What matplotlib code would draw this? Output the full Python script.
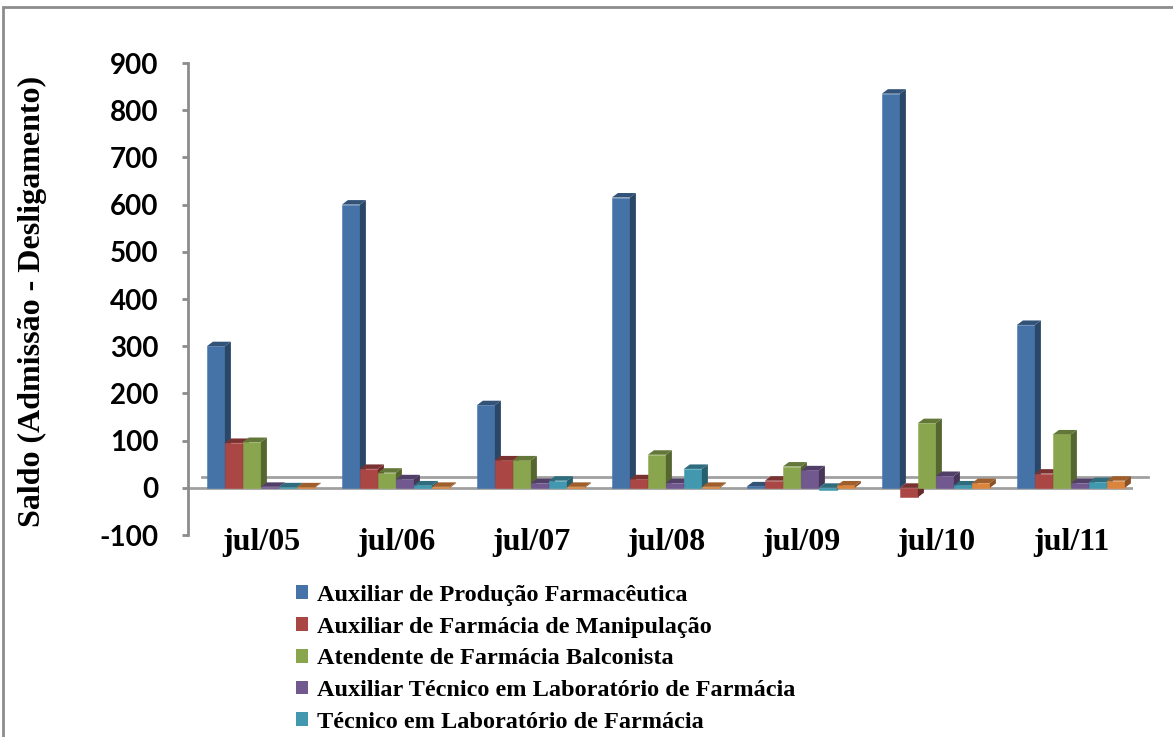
import matplotlib
matplotlib.use("Agg")
import matplotlib.pyplot as plt
from matplotlib.patches import Rectangle, Polygon
import numpy as np

# --- data -----------------------------------------------------------------
periodos = ["jul/05", "jul/06", "jul/07", "jul/08", "jul/09", "jul/10", "jul/11"]

aux_producao = [300, 600, 175, 615, 3, 835, 345]
aux_manipulacao = [95, 40, 58, 18, 15, -20, 30]
atendente_balconista = [97, 32, 58, 70, 45, 137, 113]
aux_tecnico_lab = [2, 18, 10, 10, 37, 25, 10]
tecnico_lab = [1, 5, 15, 40, -5, 5, 12]
serie6 = [1, 2, 2, 2, 5, 10, 15]

nomes = [
    "Auxiliar de Produção Farmacêutica",
    "Auxiliar de Farmácia de Manipulação",
    "Atendente de Farmácia Balconista",
    "Auxiliar Técnico em Laboratório de Farmácia",
    "Técnico em Laboratório de Farmácia",
]
series = [aux_producao, aux_manipulacao, atendente_balconista,
          aux_tecnico_lab, tecnico_lab, serie6]
cores = ["#4572A7", "#AA4643", "#89A54E", "#71588F", "#4198AF", "#DB843D"]

y_ticks = [-100, 0, 100, 200, 300, 400, 500, 600, 700, 800, 900]

# --- figure ---------------------------------------------------------------
W, H = 1173, 737
fig = plt.figure(figsize=(W / 100, H / 100), dpi=100)
fig.patch.set_facecolor("white")

# outer chart frame
fig.add_artist(Rectangle((3 / W, -0.1), 1.2, (H - 7) / H + 0.1,
                         transform=fig.transFigure, fill=False,
                         edgecolor="#8C8C8C", linewidth=2.0))

ax_l, ax_r = 188, 1133
ax_t, ax_b = 63, 535
ax = fig.add_axes([ax_l / W, (H - ax_b) / H, (ax_r - ax_l) / W, (ax_b - ax_t) / H])

xmin, xmax = -0.54, 6.46
ymin, ymax = -100, 900
ax.set_xlim(xmin, xmax)
ax.set_ylim(ymin, ymax)

px_x = (ax_r - ax_l) / (xmax - xmin)      # pixels per x unit
px_y = (ax_b - ax_t) / (ymax - ymin)      # pixels per y unit

def darker(hexcol, f):
    c = np.array(matplotlib.colors.to_rgb(hexcol))
    return tuple(c * f)

n = len(series)
w = 18 / px_x
DX = 6 / px_x
DY = 4.5 / px_y

# back wall floor line and front floor line
ax.plot([xmin + 14 / px_x, xmax + 15 / px_x], [11 / px_y, 11 / px_y],
        color="#A0A0A0", lw=2.0, clip_on=False, zorder=1)
ax.axhline(0, color="#A0A0A0", lw=2.0, zorder=1)

z = 2
for i in range(len(periodos)):
    for k in range(n):
        v = series[k][i]
        xl = i + (k - n / 2) * w
        lo, hi = min(0, v), max(0, v)
        col = cores[k]
        ax.add_patch(Rectangle((xl, lo), w, hi - lo, facecolor=col,
                               edgecolor=darker(col, 1.05), lw=0.4, zorder=z))
        ax.add_patch(Polygon([(xl + w, lo), (xl + w, hi), (xl + w + DX, hi + DY),
                              (xl + w + DX, lo + DY)], closed=True,
                             facecolor=darker(col, 0.62), edgecolor="none", zorder=z))
        ax.add_patch(Polygon([(xl, hi), (xl + w, hi), (xl + w + DX, hi + DY),
                              (xl + DX, hi + DY)], closed=True,
                             facecolor=darker(col, 0.72), edgecolor="none", zorder=z))
        z += 1

# --- axes styling ---------------------------------------------------------
for s in ["top", "right", "bottom"]:
    ax.spines[s].set_visible(False)
ax.spines["left"].set_color("#8C8C8C")
ax.spines["left"].set_linewidth(2.0)

ax.set_yticks(y_ticks)
ax.set_yticklabels([str(t) for t in y_ticks], fontfamily="Lato",
                   fontweight="bold", fontsize=20)
ax.tick_params(axis="y", direction="out", length=4, width=2, color="#8C8C8C", pad=17)

ax.set_xticks(range(len(periodos)))
ax.set_xticklabels(periodos, fontfamily="Liberation Serif", fontweight="bold", fontsize=23)
ax.tick_params(axis="x", length=0, pad=-5)

fig.text(32 / W, 1 - 301 / H, "Saldo (Admissão - Desligamento)",
         family="Liberation Serif", weight="bold", fontsize=23,
         rotation=90, ha="center", va="center")

# --- legend ---------------------------------------------------------------
handles = [Rectangle((0, 0), 1, 1, facecolor=cores[k], edgecolor="none")
           for k in range(len(nomes))]
leg = fig.legend(handles, nomes, loc="upper left",
                 bbox_to_anchor=(296 / W, (H - 585) / H),
                 frameon=False, prop={"family": "Liberation Serif",
                                      "weight": "bold", "size": 17.5},
                 handlelength=0.5, handleheight=0.5, handletextpad=0.35,
                 labelspacing=0.44, borderaxespad=0, borderpad=0)

fig.savefig("out.png", dpi=100, facecolor="white")
